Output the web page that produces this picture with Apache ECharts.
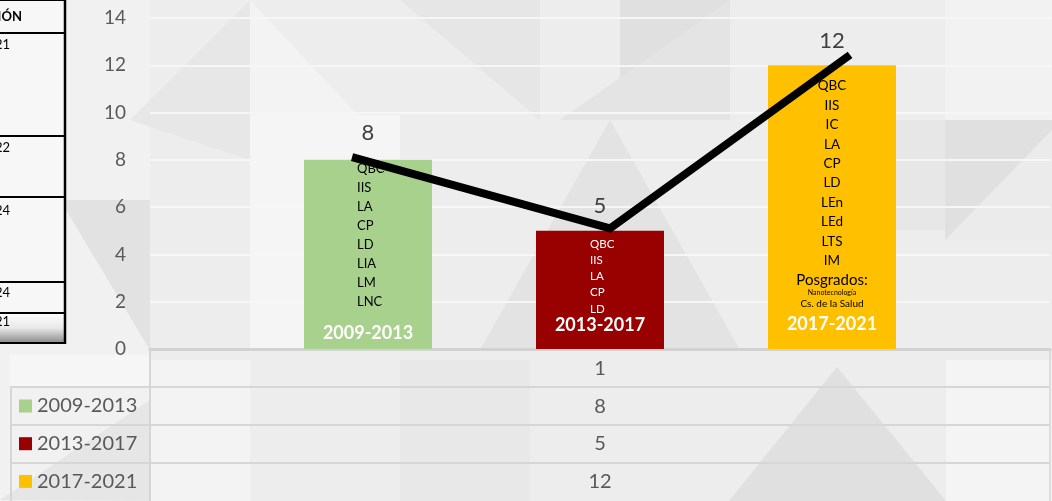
<!DOCTYPE html>
<html><head><meta charset="utf-8">
<script src="https://cdn.jsdelivr.net/npm/echarts@6/dist/echarts.min.js"></script>
<style>html,body{margin:0;padding:0;background:#ececec}#c{width:1052px;height:501px}</style>
</head><body><div id="c"></div>
<script>
// ---- data ----
const categories = ['1'];
const periods = ['2009-2013', '2013-2017', '2017-2021'];
const values = [8, 5, 12];
const programs = [
  ['QBC', 'IIS', 'LA', 'CP', 'LD', 'LIA', 'LM', 'LNC'],
  ['QBC', 'IIS', 'LA', 'CP', 'LD'],
  ['QBC', 'IIS', 'IC', 'LA', 'CP', 'LD', 'LEn', 'LEd', 'LTS', 'IM']
];
const postgrad = ['Posgrados:', 'Nanotecnología', 'Cs. de la Salud'];
const trendX = [-1.069, 0.043, 1.078];   // bar-slot units, 0 = category centre
const trendY = [8.12, 5.1, 12.44];
const yMin = 0, yMax = 14, yStep = 2;
const colors = ['#A9D18E', '#990000', '#FFC000'];
const sideLabels = ['CIÓN', '2021', '2022', '2024', '2024', '2021'];

// ---- chart ----
const FONT = 'Lato, "Open Sans", sans-serif';
const chart = echarts.init(document.getElementById('c'), null, {renderer: 'canvas'});

const series = [];
const periodDist = [7, 15, 16];
const valueDist = [16, 14, 13];
periods.forEach((p, i) => {
  // bottom helper: period name
  series.push({
    name: '_b' + i, type: 'bar', stack: 's' + i, xAxisIndex: 0, data: [0], barWidth: 128,
    itemStyle: {color: 'rgba(0,0,0,0)'}, silent: true,
    label: {show: true, position: 'top', distance: periodDist[i], formatter: p,
      color: '#ffffff', fontWeight: 'bold', fontSize: 18, fontFamily: FONT}
  });
  // main bar
  series.push({
    name: p, type: 'bar', stack: 's' + i, xAxisIndex: 0, data: [values[i]], barWidth: 128,
    itemStyle: {color: colors[i]},
    label: {show: true, position: 'top', distance: valueDist[i], color: '#404040', fontSize: 22, fontFamily: FONT}
  });
  // top helper: programme list
  let lbl;
  if (i === 0) {
    lbl = {show: true, position: [53, -1], align: 'left', verticalAlign: 'top',
      formatter: programs[0].join('\n'), fontSize: 13, lineHeight: 19.1, color: '#000', fontFamily: FONT};
  } else if (i === 1) {
    lbl = {show: true, position: [54, 5], align: 'left', verticalAlign: 'top',
      formatter: programs[1].join('\n'), fontSize: 11.5, lineHeight: 16.25, color: '#ffffff', fontFamily: FONT};
  } else {
    const txt = programs[2].map(s => '{a|' + s + '}').join('\n') + '\n{p|' + postgrad[0] + '}\n{n|' + postgrad[1] + '}\n{c|' + postgrad[2] + '}';
    lbl = {show: true, position: ['50%', 11], align: 'center', verticalAlign: 'top', formatter: txt, fontFamily: FONT,
      rich: {
        a: {fontSize: 13.5, lineHeight: 19.4, color: '#000', align: 'center', fontFamily: FONT},
        p: {fontSize: 15, lineHeight: 19.4, color: '#000', align: 'center', fontFamily: FONT},
        n: {fontSize: 7, lineHeight: 7, color: '#000', align: 'center', fontFamily: FONT},
        c: {fontSize: 10, lineHeight: 14.6, color: '#000', align: 'center', fontFamily: FONT}
      }};
  }
  series.push({
    name: '_t' + i, type: 'bar', stack: 's' + i, xAxisIndex: 0, data: [0], barWidth: 128,
    itemStyle: {color: 'rgba(0,0,0,0)'}, silent: true, label: lbl
  });
});
series.forEach(s => { if (s.type === 'bar') s.barGap = '81.25%'; });

series.push({
  name: '_trend', type: 'line', xAxisIndex: 1, z: 5, symbol: 'none', silent: true,
  data: trendX.map((x, k) => [x, trendY[k]]),
  lineStyle: {color: '#000', width: 8, cap: 'butt', join: 'miter'}
});

const gray = '#d6d6d6';
const bg = [];
function poly(pts, fill) { bg.push({type: 'polygon', z: -100, silent: true, shape: {points: pts}, style: {fill: fill}}); }
function rect(x, y, w, h, fill) { bg.push({type: 'rect', z: -100, silent: true, shape: {x: x, y: y, width: w, height: h}, style: {fill: fill}}); }
// soft geometric background
rect(0, 0, 1052, 501, '#ededed');
rect(0, 0, 150, 501, '#f1f1f1');
poly([[130, 120], [250, 0], [250, 160]], '#e7e7e7');
poly([[250, 0], [400, 160], [250, 160]], '#f3f3f3');
rect(250, 115, 150, 235, '#f5f5f5');
poly([[400, 0], [540, 0], [540, 120]], '#e6e6e6');
rect(620, 0, 110, 115, '#e0e0e0');
poly([[560, 120], [730, 0], [730, 120]], '#e4e4e4');
poly([[480, 350], [610, 120], [740, 350]], '#e3e3e3');
rect(880, 120, 65, 110, '#e7e7e7');
rect(945, 120, 107, 120, '#e0e0e0');
poly([[945, 240], [1052, 130], [1052, 240]], '#ebebeb');
rect(945, 0, 107, 120, '#f2f2f2');
poly([[729, 501], [837, 367], [946, 501]], '#e0e0e0');
poly([[0, 500], [150, 400], [150, 501]], '#e6e6e6');
poly([[60, 200], [150, 200], [150, 350]], '#e2e2e2');
rect(10, 355, 140, 32, '#f6f6f6');
rect(150, 360, 100, 141, '#f3f3f3');
rect(400, 360, 130, 141, '#e8e8e8');
rect(946, 360, 106, 141, '#f4f4f4');

// left cut table
const lt = [];
const rowsY = [0, 33, 136, 197, 282, 313, 343];
lt.push({type: 'rect', z: 10, shape: {x: -5, y: 0, width: 70, height: 313}, style: {fill: '#f7f7f7'}});
lt.push({type: 'rect', z: 10, shape: {x: -5, y: 313, width: 70, height: 30},
  style: {fill: new echarts.graphic.LinearGradient(0, 0, 0, 1, [{offset: 0, color: '#ffffff'}, {offset: 0.5, color: '#e8e8e8'}, {offset: 1, color: '#8a8a8a'}])}});
rowsY.forEach(y => lt.push({type: 'line', z: 11, shape: {x1: -5, y1: y, x2: 66, y2: y}, style: {stroke: '#000', lineWidth: 2}}));
lt.push({type: 'line', z: 11, shape: {x1: 65, y1: 0, x2: 65, y2: 344}, style: {stroke: '#000', lineWidth: 2.5}});
const sideY = [17, 45, 148, 211, 293, 322];
sideLabels.forEach((t, k) => lt.push({type: 'text', z: 12, x: k === 0 ? 22 : 10, y: sideY[k],
  style: {text: t, align: 'right', verticalAlign: 'middle', fontSize: 13, fontWeight: k === 0 ? 'bold' : 'normal', fill: '#000', fontFamily: FONT}}));

// data table grid lines
const tbl = [];
[387, 425, 463].forEach(y => tbl.push({type: 'line', z: 1, silent: true, shape: {x1: 10, y1: y, x2: 1050, y2: y}, style: {stroke: gray, lineWidth: 2}}));
tbl.push({type: 'line', z: 1, shape: {x1: 11, y1: 387, x2: 11, y2: 501}, style: {stroke: gray, lineWidth: 2}});
tbl.push({type: 'line', z: 1, shape: {x1: 150, y1: 350, x2: 150, y2: 501}, style: {stroke: gray, lineWidth: 2}});
tbl.push({type: 'line', z: 1, shape: {x1: 1050, y1: 350, x2: 1050, y2: 501}, style: {stroke: gray, lineWidth: 1.5}});

chart.setOption({
  backgroundColor: '#ececec',
  animation: false,
  textStyle: {fontFamily: FONT},
  grid: {left: 150, right: 2, top: 18, bottom: 152, containLabel: false, outerBoundsMode: 'none'},
  legend: {
    data: periods, orient: 'vertical', left: 19, top: 394, padding: 0, itemWidth: 13, itemHeight: 13, itemGap: 13.7,
    icon: 'rect', selectedMode: false,
    textStyle: {fontSize: 20, color: '#595959', lineHeight: 24, fontFamily: FONT}
  },
  xAxis: [
    {type: 'category', data: categories, axisTick: {show: false},
      axisLine: {show: true, lineStyle: {color: '#d2d2d2', width: 3}},
      axisLabel: {margin: 1, color: '#595959', fontSize: 20, lineHeight: 37.6, fontFamily: FONT,
        formatter: (v) => [v].concat(values.map(String)).join('\n')}},
    {type: 'value', min: -1.94, max: 1.94, show: false}
  ],
  yAxis: {
    type: 'value', min: yMin, max: yMax, interval: yStep,
    axisLine: {show: false}, axisTick: {show: false},
    axisLabel: {color: '#595959', fontSize: 19, margin: 24, fontFamily: FONT},
    splitLine: {show: true, lineStyle: {color: '#f6f6f6', width: 2}}
  },
  graphic: bg.concat(tbl, lt),
  series: series
});
</script></body></html>
